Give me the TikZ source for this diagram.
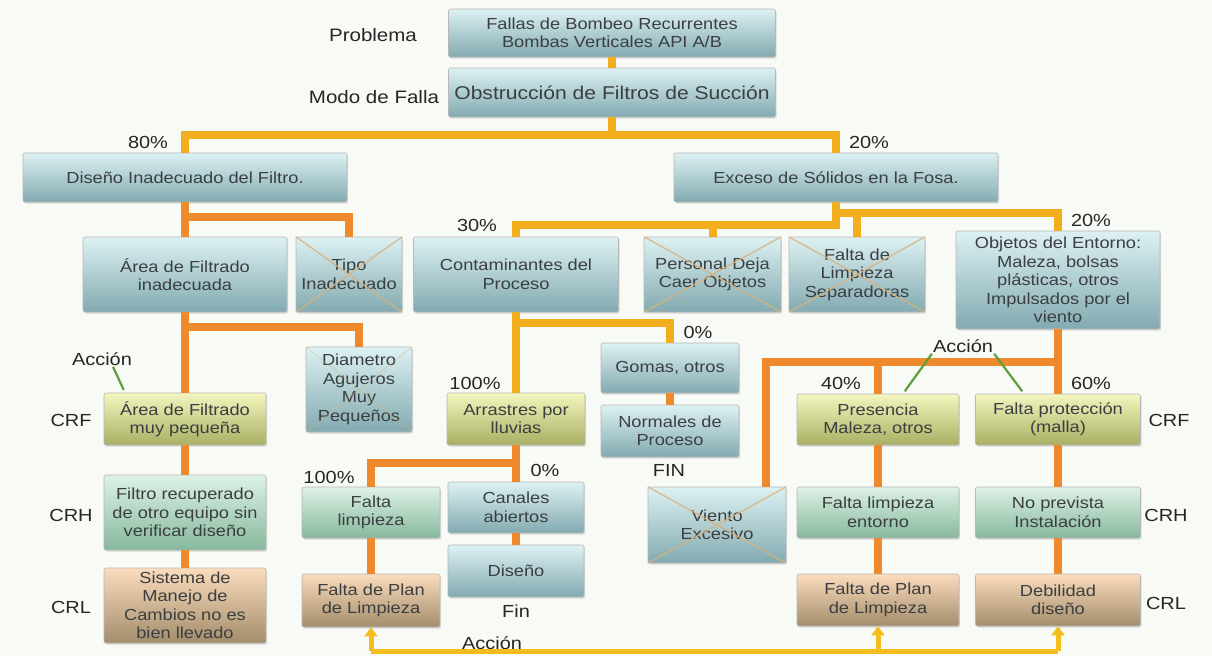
\documentclass[tikz,border=0pt]{standalone}
\usepackage{fontspec}
\setmainfont{Liberation Sans}[FakeStretch=1.14]
\usetikzlibrary{arrows.meta,shadows}

\definecolor{bgc}{HTML}{F8FAF5}
\definecolor{txt}{HTML}{3B3F41}
\definecolor{blueT}{HTML}{DDF1F3}
\definecolor{blueB}{HTML}{82AAB0}
\definecolor{crfT}{HTML}{F3F6BE}
\definecolor{crfB}{HTML}{A9AF63}
\definecolor{crhT}{HTML}{DDF2E5}
\definecolor{crhB}{HTML}{86B89D}
\definecolor{crlT}{HTML}{FBDCBD}
\definecolor{crlB}{HTML}{A38D6B}
\definecolor{lineG}{HTML}{F2AE1E}
\definecolor{lineO}{HTML}{EE8A2B}
\definecolor{lineY}{HTML}{F4BC1C}
\definecolor{ptrG}{HTML}{5E9E3C}
\definecolor{crossC}{HTML}{D9B27A}

\begin{document}
\begin{tikzpicture}[x=1pt, y=-1pt,
  box/.style={draw=black!28, line width=0.6pt, rounded corners=2pt, align=center, inner sep=1pt,
    text=txt, font=\fontsize{16}{18.5}\selectfont,
    drop shadow={shadow xshift=1.2pt, shadow yshift=-1.6pt, opacity=0.25}},
  bluebox/.style={box, top color=blueT, bottom color=blueB},
  crfbox/.style={box, top color=crfT, bottom color=crfB},
  crhbox/.style={box, top color=crhT, bottom color=crhB},
  crlbox/.style={box, top color=crlT, bottom color=crlB},
  lbl/.style={inner sep=1pt, text=black!85, font=\fontsize{17.5}{20}\selectfont},
  linkG/.style={draw=lineG, line width=8pt, line join=miter},
  linkO/.style={draw=lineO, line width=8pt, line join=miter},
  act/.style={draw=lineY, line width=5pt},
  pointer/.style={draw=ptrG, line width=2.2pt, shorten >=3pt},
  xline/.style={draw=crossC, line width=1.3pt, opacity=0.85}]

\fill[bgc] (0,0) rectangle (1212,656);
\useasboundingbox (0,0) rectangle (1212,656);

\node[bluebox, minimum width=327pt, minimum height=48pt] (P) at (612,33) {Fallas de Bombeo Recurrentes\\Bombas Verticales API A/B};
\node[bluebox, minimum width=327pt, minimum height=49pt, font=\fontsize{18.5}{21}\selectfont] (M) at (612,92.5) {Obstrucción de Filtros de Succión};
\node[bluebox, minimum width=324pt, minimum height=49pt] (D) at (185,177.5) {Diseño Inadecuado del Filtro.};
\node[bluebox, minimum width=324pt, minimum height=49pt] (E) at (836,177.5) {Exceso de Sólidos en la Fosa.};
\node[bluebox, minimum width=204pt, minimum height=75pt] (A) at (185,274.5) {Área de Filtrado\\inadecuada};
\node[bluebox, minimum width=106pt, minimum height=75pt] (T) at (349,274.5) {Tipo\\Inadecuado};
\node[bluebox, minimum width=205pt, minimum height=75pt] (C) at (516,274.5) {Contaminantes del\\Proceso};
\node[bluebox, minimum width=137pt, minimum height=75pt] (PD) at (712.5,274.5) {Personal Deja\\Caer Objetos};
\node[bluebox, minimum width=136pt, minimum height=75pt] (FL) at (857,274.5) {Falta de\\Limpieza\\Separadoras};
\node[bluebox, minimum width=204pt, minimum height=98pt] (O) at (1058,280) {Objetos del Entorno:\\Maleza, bolsas\\plásticas, otros\\Impulsados por el\\viento};
\node[crfbox, minimum width=162pt, minimum height=52pt] (AF) at (185,419) {Área de Filtrado\\muy pequeña};
\node[bluebox, minimum width=106pt, minimum height=85pt] (DA) at (359,389.5) {Diametro\\Agujeros\\Muy\\Pequeños};
\node[bluebox, minimum width=138pt, minimum height=50pt] (G) at (670,368) {Gomas, otros};
\node[bluebox, minimum width=138pt, minimum height=52pt] (N) at (670,431) {Normales de\\Proceso};
\node[crfbox, minimum width=138pt, minimum height=52pt] (AR) at (516,419) {Arrastres por\\lluvias};
\node[crfbox, minimum width=162pt, minimum height=51pt] (PR) at (878,419.5) {Presencia\\Maleza, otros};
\node[crfbox, minimum width=165pt, minimum height=51pt] (FP) at (1058,419.5) {Falta protección\\(malla)};
\node[crhbox, minimum width=162pt, minimum height=75pt] (FR) at (185,512.5) {Filtro recuperado\\de otro equipo sin\\verificar diseño};
\node[crhbox, minimum width=138pt, minimum height=51pt] (FLP) at (371,512.5) {Falta\\limpieza};
\node[bluebox, minimum width=136pt, minimum height=51pt] (CA) at (516,507.5) {Canales\\abiertos};
\node[bluebox, minimum width=136pt, minimum height=52pt] (DI) at (516,571) {Diseño};
\node[bluebox, minimum width=138pt, minimum height=76pt] (VE) at (717,525) {Viento\\Excesivo};
\node[crhbox, minimum width=162pt, minimum height=51pt] (FLE) at (878,512.5) {Falta limpieza\\entorno};
\node[crhbox, minimum width=165pt, minimum height=51pt] (NP) at (1058,512.5) {No prevista\\Instalación};
\node[crlbox, minimum width=162pt, minimum height=75pt] (SM) at (185,605.5) {Sistema de\\Manejo de\\Cambios no es\\bien llevado};
\node[crlbox, minimum width=138pt, minimum height=53pt] (FPL) at (371,600.5) {Falta de Plan\\de Limpieza};
\node[crlbox, minimum width=162pt, minimum height=52pt] (FPE) at (878,600) {Falta de Plan\\de Limpieza};
\node[crlbox, minimum width=165pt, minimum height=52pt] (DB) at (1058,600) {Debilidad\\diseño};

\node[lbl, font=\fontsize{18}{20}\selectfont] (lprob) at (373,35) {Problema};
\node[lbl, font=\fontsize{18}{20}\selectfont] (lmodo) at (374,97) {Modo de Falla};
\node[lbl] (p80) at (148,142) {80\%};
\node[lbl] (p20a) at (869,142) {20\%};
\node[lbl] (p30) at (477,225) {30\%};
\node[lbl] (p20b) at (1091,220) {20\%};
\node[lbl] (p0a) at (698,332) {0\%};
\node[lbl] (p100a) at (475,383) {100\%};
\node[lbl] (p40) at (841,383) {40\%};
\node[lbl] (p60) at (1091,383) {60\%};
\node[lbl] (acc1) at (102,359) {Acción};
\node[lbl] (acc2) at (963,346) {Acción};
\node[lbl] (crf1) at (71,420) {CRF};
\node[lbl] (crf2) at (1169,420) {CRF};
\node[lbl] (fin1) at (669,470) {FIN};
\node[lbl] (p100b) at (329,477) {100\%};
\node[lbl] (p0b) at (545,470) {0\%};
\node[lbl] (crh1) at (71,515) {CRH};
\node[lbl] (crh2) at (1166,515) {CRH};
\node[lbl] (crl1) at (71,607) {CRL};
\node[lbl] (crl2) at (1166,603) {CRL};
\node[lbl] (fin2) at (516,611) {Fin};
\node[lbl] (acc3) at (492,643) {Acción};

\draw[linkG] (P) -- (M);
\draw[linkG] (M.south) -- ++(0,18) -| (D.north);
\draw[linkG] (M.south) -- ++(0,18) -| (E.north);
\draw[linkO] (D) -- (A);
\draw[linkO] (D.south) -- ++(0,15) -| (T.north);
\draw[linkG] (E.south) -- ++(0,11) -| (O.north);
\draw[linkG] (E.south) -- ++(0,11) -| (FL.north);
\draw[linkG] (E.south) -- ++(0,23) -| (C.north);
\draw[linkG] (E.south) -- ++(0,23) -| (PD.north);
\draw[linkO] (A) -- (AF);
\draw[linkO] (A.south) -- ++(0,15) -| (DA.north);
\draw[linkO] (AF) -- (FR);
\draw[linkO] (FR) -- (SM);
\draw[linkG] (C) -- (AR);
\draw[linkG] (C.south) -- ++(0,11) -| (G.north);
\draw[linkO] (G) -- (N);
\draw[linkO] (AR) -- (CA);
\draw[linkO] (AR.south) -- ++(0,18) -| (FLP.north);
\draw[linkO] (CA) -- (DI);
\draw[linkO] (FLP) -- (FPL);
\draw[linkO] (O) -- (FP);
\draw[linkO] (O.south) -- ++(0,33) -| (PR.north);
\draw[linkO] (O.south) -- ++(0,33) -| ([xshift=49pt]VE.north);
\draw[linkO] (PR) -- (FLE);
\draw[linkO] (FLE) -- (FPE);
\draw[linkO] (FP) -- (NP);
\draw[linkO] (NP) -- (DB);

\draw[pointer] ([xshift=11pt]acc1.south) -- ([xshift=-60pt]AF.north);
\draw[pointer] (acc2.south west) -- ([xshift=25pt]PR.north);
\draw[pointer] (acc2.south east) -- ([xshift=-34pt]FP.north);

\draw[xline] (T.north west) -- (T.south east) (T.north east) -- (T.south west);
\draw[xline] (PD.north west) -- (PD.south east) (PD.north east) -- (PD.south west);
\draw[xline] (FL.north west) -- (FL.south east) (FL.north east) -- (FL.south west);
\draw[xline] (VE.north west) -- (VE.south east) (VE.north east) -- (VE.south west);
\draw[xline, opacity=0.3] (DA.north west) -- (DA.south east) (DA.north east) -- (DA.south west);

\coordinate (accbase) at (0,651);
\draw[act] (FPL.south |- accbase) -- (DB.south |- accbase);
\draw[act, -{Triangle[width=13pt,length=9pt]}] (FPL.south |- accbase) -- (FPL.south);
\draw[act, -{Triangle[width=13pt,length=9pt]}] (FPE.south |- accbase) -- (FPE.south);
\draw[act, -{Triangle[width=13pt,length=9pt]}] (DB.south |- accbase) -- (DB.south);
\end{tikzpicture}
\end{document}
